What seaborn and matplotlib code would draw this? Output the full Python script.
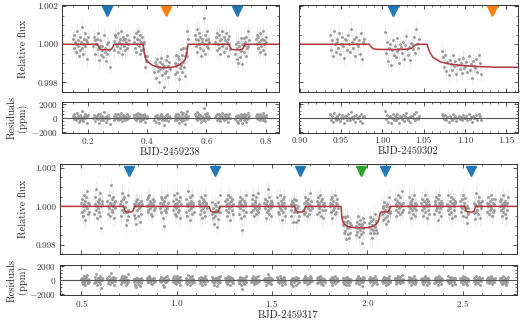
import numpy as np
import pandas as pd
import matplotlib
matplotlib.use("Agg")
import matplotlib.pyplot as plt
import seaborn as sns
from matplotlib.ticker import MultipleLocator, AutoMinorLocator

# ---- model curves ----
m1_x = [0.10, 0.233, 0.237, 0.242, 0.250, 0.270, 0.279, 0.284, 0.288,
        0.386, 0.390, 0.396, 0.404, 0.417, 0.432, 0.447, 0.462, 0.477, 0.492,
        0.507, 0.520, 0.528, 0.534, 0.538,
        0.676, 0.680, 0.685, 0.693, 0.713, 0.721, 0.726, 0.730, 0.85]
m1_y = [1.0, 1.0, 0.99985, 0.99974, 0.99971, 0.99971, 0.99974, 0.99985, 1.0,
        1.0, 0.99955, 0.99920, 0.99905, 0.99890, 0.99882, 0.99878, 0.99877, 0.99878, 0.99882,
        0.99890, 0.99905, 0.99920, 0.99955, 1.0,
        1.0, 0.99985, 0.99974, 0.99971, 0.99971, 0.99974, 0.99985, 1.0, 1.0]

m2_x = [0.89, 0.984, 0.986, 0.989, 0.995, 1.015, 1.030, 1.035, 1.038, 1.041,
        1.054, 1.057, 1.061, 1.070, 1.080, 1.095, 1.115, 1.135, 1.17]
m2_y = [1.0, 1.0, 0.99988, 0.99976, 0.99973, 0.99972, 0.99974, 0.99978, 0.99990, 1.0,
        1.0, 0.99960, 0.99932, 0.99908, 0.99897, 0.99889, 0.99883, 0.99880, 0.99879]

m3_x = [0.38, 0.723, 0.727, 0.732, 0.740, 0.762, 0.770, 0.775, 0.779,
        1.172, 1.176, 1.181, 1.189, 1.211, 1.219, 1.224, 1.228,
        1.620, 1.624, 1.629, 1.637, 1.659, 1.667, 1.672, 1.676,
        1.863, 1.868, 1.876, 1.890, 1.910, 1.935, 1.967, 2.000, 2.025, 2.045,
        2.058, 2.064, 2.068, 2.072, 2.104, 2.112, 2.117, 2.121,
        2.512, 2.516, 2.521, 2.529, 2.551, 2.559, 2.564, 2.568, 2.80]
m3_y = [1.0, 1.0, 0.99985, 0.99974, 0.99971, 0.99971, 0.99974, 0.99985, 1.0,
        1.0, 0.99985, 0.99974, 0.99971, 0.99971, 0.99974, 0.99985, 1.0,
        1.0, 0.99985, 0.99974, 0.99971, 0.99971, 0.99974, 0.99985, 1.0,
        1.0, 0.99935, 0.99912, 0.99900, 0.99893, 0.99890, 0.99889, 0.99890, 0.99895, 0.99906,
        0.99922, 0.99945, 0.99965, 0.99971, 0.99971, 0.99974, 0.99985, 1.0,
        1.0, 0.99985, 0.99974, 0.99971, 0.99971, 0.99974, 0.99985, 1.0, 1.0]

# ---- observation windows (start, length) and flux offsets in units of 100 ppm ----
p1_start = [0.150, 0.218, 0.287, 0.355, 0.424, 0.493, 0.561, 0.630, 0.698, 0.767]
p1_len = [0.050, 0.055, 0.050, 0.045, 0.052, 0.045, 0.048, 0.050, 0.045, 0.035]
p1_dev = [
    [3, -2, 5, 1, -4, 0, 7, -1, 2, -6, 4, -3, 1, 9, -2, 0, -5, 3, 6, -1, 2, -8, 1, 4],
    [-1, 4, 2, -5, 0, 3, 6, -2, -7, 1, 5, -3, 2, 0, -4, 8, 1, -1, -6, 3, -2, 4, 0, -9],
    [2, -3, 5, 0, 4, -1, 6, -4, 1, 3, -2, 7, 0, -5, 2, 4, -1, 3, -3, 1, 5, -2, 0, 2],
    [4, 1, -2, 6, -4, 3, 0, 7, -1, 2, -5, 5, 1, -3, 4, 0, -2, 3, 6, -6, 1, -1, 2, 0],
    [-3, 2, -6, 1, 4, -2, 0, -8, 3, -1, 5, -4, 2, 0, -10, 1, -3, 4, -2, 6, -5, 1, 3, -1],
    [2, -4, 6, 0, -3, 5, 1, -7, 3, -2, 8, -1, 4, -5, 0, 7, -3, 2, -9, 5, 1, -2, 9, 3],
    [5, -1, 3, 8, -4, 2, 0, 6, -2, 4, -6, 1, 3, -3, 14, 0, 5, -5, 2, 7, -1, 3, -2, 1],
    [1, 4, -3, 6, 0, -2, 5, 2, -5, 3, 7, -1, 0, 4, -4, 2, 6, -2, 1, -6, 3, 0, 5, -1],
    [-2, 3, -5, 1, 4, -7, 2, 0, -4, 6, -1, 3, -8, 2, 5, -3, 0, 1, -6, 4, -2, 7, -1, 2],
    [3, 0, 5, -2, 4, 1, -4, 6, 2, -1, 3, -3, 7, 0, 2, -5, 4, 1],
]

p2_start = [0.936, 1.003, 1.072]
p2_len = [0.042, 0.041, 0.047]
p2_dev = [
    [5, -3, 2, -6, 7, 0, -4, 3, 1, -2, 6, -5, 0, 4, -1, -7, 3, 2, -3, 5, 0, -4, 8, 1,
     -2, 3, -6, 4, 0, -1, 2, -5, 6, -8, 1, 3],
    [9, -2, 4, -6, 1, 3, -8, 0, 5, -3, 2, -4, 6, -1, 0, -7, 3, 1, -2, 4, -5, 2, 7, 0,
     -3, 1, -6, 3, 2, -1, 5, -4, 8, 0, -2, 3],
    [6, 3, -2, 4, -4, 1, -6, 2, 0, -3, 5, -1, 2, -5, 0, 3, -2, 1, -4, 4, -1, 0, 2, -3,
     5, -2, 1, -6, 3, 0, -1, 4, -3, 6, 2, -4],
]

p3_start = [0.500, 0.569, 0.637, 0.706, 0.775, 0.843, 0.912, 0.980, 1.049, 1.117, 1.186,
            1.255, 1.323, 1.392, 1.460, 1.529, 1.598, 1.666, 1.735, 1.803, 1.872, 1.941,
            2.009, 2.078, 2.146, 2.215, 2.284, 2.352, 2.421, 2.489, 2.558, 2.627, 2.695]
p3_len = [0.042] * 33
p3_dev = [
    [2, -3, 4, 0, -5, 6, 1, -2, 3, -7, 5, 0, -1, 8, -4, 2, -3, 1],
    [-4, 1, 5, -2, 9, 0, -6, 3, -1, 4, -3, 2, 7, -5, 0, -11, 3, 1],
    [3, 0, -4, 6, -1, 2, -5, 11, 1, -3, 4, -2, 0, 5, -6, 2, -1, 3],
    [1, -5, 3, 7, -2, 0, 4, -3, 6, -1, 2, -7, 5, 0, -4, 9, -2, 1],
    [-3, 2, -6, 1, 0, -9, 3, -2, 4, -5, 1, -1, 2, -8, 0, 3, -4, 1],
    [0, 4, -2, 5, -3, 1, 6, -1, 3, -4, 2, 0, -5, 4, 1, -2, 3, -1],
    [2, -1, 5, -3, 0, 4, -6, 2, 1, -10, 3, -2, 5, 0, -3, 6, -1, 2],
    [-2, 3, 0, 6, -4, 1, -1, 4, -5, 2, 7, -3, 0, 3, -2, 5, -6, 1],
    [4, -3, 1, -5, 8, 0, 2, -2, 5, -7, 1, 3, -1, -4, 6, 0, 2, -3],
    [1, 3, -4, 0, 5, -2, 2, -6, 4, -1, 0, 3, -3, 6, -5, 1, 2, -1],
    [-1, 5, -3, 2, 0, -6, 4, -2, 1, 3, -8, 0, 5, -4, 2, -1, 7, -3],
    [3, -2, 0, 4, -5, 1, 6, -3, 2, -1, 5, -7, 0, 3, -2, 4, -4, 1],
    [0, 2, -4, 5, -1, 3, -6, 1, -12, 4, -2, 0, 3, -5, 2, 1, -3, 6],
    [-3, 4, 1, -2, 6, -5, 0, 3, -1, 2, -4, 5, -2, 0, 7, -3, 1, -1],
    [2, -1, 4, -6, 1, 3, -3, 0, 9, -2, 5, -4, 1, -1, 3, -5, 2, 0],
    [5, -3, 2, 0, -4, 6, -1, 3, -2, 1, -7, 4, 0, -3, 2, 5, -1, -5],
    [-2, 1, -5, 3, 0, -8, 2, 4, -3, 1, -1, 5, -6, 2, 0, -4, 3, -2],
    [1, 4, -2, 6, -3, 0, 3, -5, 2, -1, 4, 1, -4, 7, -2, 0, 3, -1],
    [3, -4, 1, 5, -1, 2, -3, 6, 0, -5, 3, -2, 4, 1, -6, 2, 0, -2],
    [0, 2, -3, 4, -6, 1, 5, -2, 3, -1, 0, 6, -4, 2, -3, 1, 4, -1],
    [-2, 3, -5, 1, 4, -3, 0, -7, 2, 5, -1, -4, 3, 0, -6, 2, -3, 1],
    [1, -4, 3, -2, 6, 0, -5, 2, -1, 4, -3, 1, -8, 2, 5, -2, 0, 3],
    [2, 0, -3, 5, -1, 3, -6, 1, 4, -2, 0, -4, 6, -1, 2, -3, 1, -5],
    [-1, 3, -4, 2, 0, 5, -3, 1, -6, 3, -2, 4, 0, -5, 2, 7, -1, -3],
    [4, -2, 1, -5, 3, 0, 6, -3, 2, -1, 5, -4, 1, 0, -3, 8, -2, 2],
    [0, -3, 5, -1, 2, -6, 3, 1, -2, 4, -4, 0, 6, -1, -5, 2, 1, -2],
    [2, 4, -2, 0, -5, 3, -1, 6, -3, 1, 2, -6, 4, 0, -2, 3, -4, 1],
    [-4, 1, 3, -2, 5, -1, 0, 4, -7, 2, -3, 6, 1, -1, 3, -5, 0, 2],
    [1, -2, 6, -4, 0, 3, -1, 5, -3, 2, -6, 1, 4, -2, 0, 3, -5, 2],
    [3, 0, -3, 4, -1, 6, -5, 2, 0, -2, 5, -4, 1, 3, -6, 0, 2, -1],
    [-1, 4, -5, 2, 1, -3, 7, 0, -2, 3, -4, 1, 5, -6, 2, 0, -1, 3],
    [2, -3, 0, 5, -4, 1, 3, -2, 6, -1, 0, -5, 4, 2, -3, 1, -2, 4],
    [0, 3, -2, 4, -5, 1, -1, 6, -3, 2, 0, -4, 3, -6, 1, 2, -2, 5],
]

# transit times marked by triangles
p1_blue = [0.264, 0.703]
p1_orange = [0.462]
p2_blue = [1.013]
p2_orange = [1.133]
p3_blue = [0.751, 1.200, 1.648, 2.093, 2.543]
p3_green = [1.967]

flux_err = 0.0004


def build(starts, lens, devs, mx, my):
    rows = []
    for s, w, d in zip(starts, lens, devs):
        t = np.linspace(s, s + w, len(d))
        model = np.interp(t, mx, my)
        for ti, mi, di in zip(t, model, d):
            rows.append({"time": ti, "flux": mi + di * 1e-4, "resid": di * 100.0})
    return pd.DataFrame(rows)


sns.set_theme(style="ticks")
plt.rcParams.update({
    "font.family": ["cmr10", "DejaVu Serif"],
    "mathtext.fontset": "cm",
    "axes.formatter.use_mathtext": True,
    "axes.unicode_minus": True,
    "font.size": 7,
    "axes.labelsize": 7.5,
    "xtick.labelsize": 6.6,
    "ytick.labelsize": 6.6,
    "axes.edgecolor": "#333333",
    "axes.linewidth": 0.7,
    "xtick.direction": "in",
    "ytick.direction": "in",
    "xtick.top": True,
    "ytick.right": True,
    "xtick.major.size": 3,
    "ytick.major.size": 3,
    "xtick.minor.size": 1.6,
    "ytick.minor.size": 1.6,
    "xtick.major.width": 0.6,
    "ytick.major.width": 0.6,
    "xtick.minor.width": 0.5,
    "ytick.minor.width": 0.5,
    "xtick.color": "#333333",
    "ytick.color": "#333333",
    "xtick.major.pad": 2.5,
    "ytick.major.pad": 2.5,
})

RED = "#b3363a"
GREY = "#9b9b9b"
COLS = {"b": "#1f77b4", "o": "#ff7f0e", "g": "#2ca02c"}

fig = plt.figure(figsize=(5.2, 3.22), dpi=100)
ax1 = fig.add_axes([0.119, 0.714, 0.417, 0.270])
ax1r = fig.add_axes([0.119, 0.587, 0.417, 0.096])
ax2 = fig.add_axes([0.575, 0.714, 0.421, 0.270])
ax2r = fig.add_axes([0.575, 0.587, 0.421, 0.096])
ax3 = fig.add_axes([0.115, 0.210, 0.879, 0.2795])
ax3r = fig.add_axes([0.115, 0.084, 0.879, 0.0916])

panels = [
    (ax1, ax1r, build(p1_start, p1_len, p1_dev, m1_x, m1_y), m1_x, m1_y,
     (0.112, 0.844), (0.99749, 1.00205), (-2200, 2250), 0.2, 0.05,
     [(p1_blue, "b"), (p1_orange, "o")], "BJD-2459238", True),
    (ax2, ax2r, build(p2_start, p2_len, p2_dev, m2_x, m2_y), m2_x, m2_y,
     (0.899, 1.164), (0.99749, 1.00205), (-2200, 2250), 0.05, 0.01,
     [(p2_blue, "b"), (p2_orange, "o")], "BJD-2459302", False),
    (ax3, ax3r, build(p3_start, p3_len, p3_dev, m3_x, m3_y), m3_x, m3_y,
     (0.388, 2.785), (0.99752, 1.00217), (-2100, 2150), 0.5, 0.1,
     [(p3_blue, "b"), (p3_green, "g")], "BJD-2459317", True),
]

for ax, axr, df, mx, my, xlim, ylim, rlim, major, minor, marks, xlabel, lab in panels:
    ax.errorbar(df["time"], df["flux"], yerr=flux_err, fmt="none",
                ecolor="#e6e6e6", elinewidth=0.5, zorder=1)
    sns.scatterplot(data=df, x="time", y="flux", ax=ax, color=GREY, s=4.5,
                    linewidth=0, zorder=2, legend=False)
    model = pd.DataFrame({"time": mx, "flux": my})
    sns.lineplot(data=model, x="time", y="flux", ax=ax, color=RED, lw=1.1,
                 sort=False, estimator=None, zorder=3)
    for times, c in marks:
        ax.plot(times, [0.93] * len(times), ls="none", marker="v", ms=6.5,
                color=COLS[c], transform=ax.get_xaxis_transform(), zorder=4)

    sns.scatterplot(data=df, x="time", y="resid", ax=axr, color=GREY, s=4.5,
                    linewidth=0, zorder=2, legend=False)
    axr.axhline(0, color="#555555", lw=0.8, zorder=3)

    for a in (ax, axr):
        a.set_xlim(*xlim)
        a.xaxis.set_major_locator(MultipleLocator(major))
        a.xaxis.set_minor_locator(MultipleLocator(minor))
        a.yaxis.set_minor_locator(AutoMinorLocator(4))
    ax.set_ylim(*ylim)
    axr.set_ylim(*rlim)
    ax.yaxis.set_major_locator(MultipleLocator(0.002))
    ax.yaxis.set_major_formatter(matplotlib.ticker.FormatStrFormatter("%.3f"))
    axr.yaxis.set_major_locator(MultipleLocator(2000))
    ax.tick_params(labelbottom=False)
    ax.set_xlabel("")
    axr.set_xlabel(xlabel, labelpad=1)
    if lab:
        ax.set_ylabel("Relative flux")
        axr.set_ylabel("Residuals\n(ppm)", linespacing=1.0)
    else:
        ax.set_ylabel("")
        axr.set_ylabel("")
        ax.tick_params(labelleft=False)
        axr.tick_params(labelleft=False)

ax2.xaxis.set_major_formatter(matplotlib.ticker.FormatStrFormatter("%.2f"))
ax2r.xaxis.set_major_formatter(matplotlib.ticker.FormatStrFormatter("%.2f"))

ax1.yaxis.set_label_coords(-0.155, 0.5)
ax1r.yaxis.set_label_coords(-0.155, 0.5)
ax3.yaxis.set_label_coords(-0.070, 0.5)
ax3r.yaxis.set_label_coords(-0.070, 0.5)

fig.savefig("out.png", dpi=100)
